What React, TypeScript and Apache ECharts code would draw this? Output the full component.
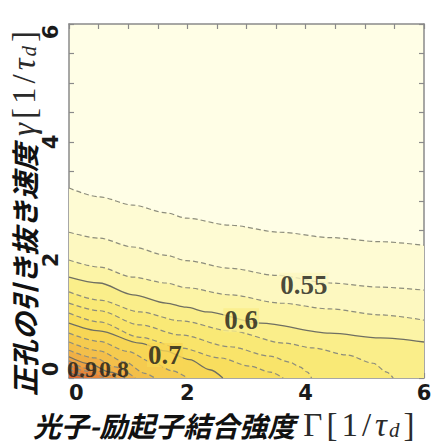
import React, { useEffect, useRef } from "react";
import * as echarts from "echarts";

// Axis ticks
const axisMin = 0;
const axisMax = 6;
const tickStep = 0.5;
const labelStep = 2;

// Contour levels (step 0.025; solid lines at 0.6, 0.7, 0.8, 0.9)
const levels = [0.525, 0.55, 0.575, 0.6, 0.625, 0.65, 0.675, 0.7, 0.725, 0.75, 0.775, 0.8, 0.825, 0.85, 0.875, 0.9];
const solidLevels = [0.6, 0.7, 0.8, 0.9];

// Contour lines: [Γ, γ]
const c0525 = [[0, 3.22], [0.51, 3.07], [1.08, 2.93], [1.64, 2.8], [1.98, 2.71], [2.72, 2.59], [3.57, 2.47], [4.41, 2.38], [5.26, 2.31], [6, 2.25]];
const c0550 = [[0, 2.47], [0.51, 2.37], [1.08, 2.22], [1.64, 2.08], [1.98, 1.99], [2.72, 1.86], [3.5, 1.74], [4.41, 1.61], [5.26, 1.54], [6, 1.49]];
const c0575 = [[0, 2.0], [0.51, 1.88], [1.08, 1.71], [1.64, 1.61], [1.98, 1.53], [2.72, 1.41], [3.57, 1.27], [4.41, 1.17], [5.26, 1.07], [6, 0.98]];
const c0600 = [[0, 1.71], [0.51, 1.61], [1.08, 1.41], [1.64, 1.27], [1.98, 1.2], [2.33, 1.12], [3.24, 0.93], [4.41, 0.76], [5.26, 0.68], [6, 0.61]];
const c0625 = [[0, 1.46], [0.51, 1.32], [1.2, 1.12], [1.88, 0.97], [2.72, 0.8], [3.65, 0.59], [4.12, 0.51], [4.7, 0.39], [5.14, 0.25], [5.37, 0.1], [5.48, 0]];
const c0650 = [[0, 1.27], [0.51, 1.14], [1.2, 0.9], [1.88, 0.73], [2.72, 0.53], [3.4, 0.37], [3.73, 0.27], [3.9, 0.19], [4.03, 0.1], [4.1, 0]];
const c0675 = [[0, 1.1], [0.51, 0.95], [1.2, 0.69], [1.88, 0.51], [2.55, 0.34], [3.06, 0.2], [3.4, 0.1], [3.62, 0]];
const c0700 = [[0, 0.93], [0.51, 0.8], [1.2, 0.59], [1.62, 0.46], [2.04, 0.31], [2.38, 0.14], [2.6, 0]];
const c0725 = [[0, 0.76], [0.51, 0.62], [1.0, 0.45], [1.4, 0.27], [1.75, 0.12], [2.0, 0]];
const c0750 = [[0, 0.61], [0.51, 0.46], [0.95, 0.27], [1.28, 0.08], [1.45, 0]];
const c0775 = [[0, 0.47], [0.44, 0.34], [0.78, 0.19], [1.12, 0]];
const c0800 = [[0, 0.36], [0.35, 0.24], [0.69, 0.1], [0.95, 0]];
const c0825 = [[0, 0.29], [0.35, 0.15], [0.8, 0]];
const c0850 = [[0, 0.22], [0.27, 0.12], [0.6, 0]];
const c0875 = [[0, 0.15], [0.19, 0.08], [0.39, 0]];
const c0900 = [[0, 0.1], [0.13, 0.05], [0.25, 0]];
const contours = [c0525, c0550, c0575, c0600, c0625, c0650, c0675, c0700, c0725, c0750, c0775, c0800, c0825, c0850, c0875, c0900];

// Fill colour of the band above each level
const backgroundFill = "#FFFEE6";
const bandColors = [
  "#FEFBD3", "#FDF8C0", "#FCF4A6", "#FAEE8A", "#F9E976", "#F9E46A", "#F8DE5E", "#F7D655",
  "#F5CB4F", "#F3BF4A", "#F0B046", "#EDA242", "#EA933E", "#E6853A", "#E27837", "#DD6A33",
];

// Inline contour labels [Γ, γ]
const labelTexts = ["0.55", "0.6", "0.7", "0.8", "0.9"];
const labelLevels = [0.55, 0.6, 0.7, 0.8, 0.9];
const labelPoints = [[3.97, 1.58], [2.91, 0.98], [1.62, 0.39], [0.76, 0.16], [0.22, 0.16]];
const labelBoxed = [true, true, true, false, false];
const labelSizes = [27, 27, 27, 24, 24];

const xTitleJp = "光子-励起子結合強度";
const yTitleJp = "正孔の引き抜き速度";

export default function App() {
  const ref = useRef<HTMLDivElement>(null);
  useEffect(() => {
    if (!ref.current) return;
    const chart = echarts.init(ref.current, undefined, { renderer: "svg" });
    const frame = "#8a8a8a";
    const axisCommon = {
      type: "value" as const,
      min: axisMin,
      max: axisMax,
      interval: tickStep,
      splitLine: { show: false },
      axisLine: { show: true, onZero: false, lineStyle: { color: frame, width: 1.5 } },
      axisTick: { show: true, inside: true, length: 5, lineStyle: { color: frame, width: 1.2 } },
    };
    const isLabelled = (v: number) => Math.abs(v % labelStep) < 1e-9;
    const tickLabel = {
      color: "#1a1a1a",
      fontWeight: "bold" as const,
      fontSize: 21,
      lineHeight: 20,
      fontFamily: "DejaVu Sans",
    };
    const yRich = {
      lo: { ...tickLabel, padding: [0, 0, 0, 18] },
      hi: { ...tickLabel, padding: [0, 16, 0, 0] },
    };
    const yFmt = (v: number) => {
      if (!isLabelled(v)) return "";
      if (v === axisMin) return `{lo|${v}}`;
      if (v === axisMax) return `{hi|${v}}`;
      return String(v);
    };

    const areaSeries = contours.map((c, i) => ({
      type: "line",
      data: c,
      smooth: 0.3,
      smoothMonotone: "x",
      showSymbol: false,
      symbol: "none",
      lineStyle: { width: 0, opacity: 0 },
      areaStyle: { color: bandColors[i], opacity: 1, origin: "start" },
      z: 1,
      silent: true,
    }));
    const lineSeries = contours.map((c, i) => {
      const solid = solidLevels.includes(levels[i]);
      return {
        type: "line",
        data: c,
        smooth: 0.3,
        smoothMonotone: "x",
        showSymbol: false,
        symbol: "none",
        lineStyle: {
          color: solid ? "#6f6f62" : "#8d8d7c",
          width: solid ? 1.3 : 1.2,
          type: solid ? "solid" : [5, 3],
        },
        z: 3,
        silent: true,
      };
    });
    const labelSeries = {
      type: "scatter",
      symbolSize: 0,
      itemStyle: { color: "rgba(0,0,0,0)" },
      z: 5,
      silent: true,
      label: {
        show: true,
        position: "inside",
        fontFamily: "Liberation Serif",
        fontWeight: "bold",
        color: "#1a1a16",
      },
      data: labelPoints.map((p, i) => ({
        value: p,
        label: {
          show: true,
          position: "inside",
          formatter: labelTexts[i],
          fontSize: labelSizes[i],
          lineHeight: labelSizes[i] - 3,
          backgroundColor: labelBoxed[i] ? bandColors[levels.indexOf(labelLevels[i])] : "transparent",
          padding: [0, 1, 0, 1],
        },
      })),
    };

    const ink = "#2a2a2a";
    const jp = {
      fontFamily: "Noto Sans CJK JP",
      fontWeight: "bold",
      fontStyle: "italic",
      fontSize: 28,
      lineHeight: 30,
      fill: "#111",
      color: "#111",
      padding: [0, 6, 0, 0],
    };
    const m = { fontFamily: "Liberation Serif", fontSize: 33, lineHeight: 30, fill: ink, color: ink, padding: [0, 2, 0, 2] };
    const mi = { ...m, fontStyle: "italic" };
    const sub = {
      fontFamily: "Liberation Serif",
      fontStyle: "italic",
      fontSize: 21,
      lineHeight: 18,
      fill: ink,
      color: ink,
      verticalAlign: "bottom",
      padding: [0, 2, 0, 0],
    };
    const rich = { jp, m, mi, sub };

    chart.setOption({
      animation: false,
      grid: { left: 69, top: 24, right: 23, bottom: 67, show: true, backgroundColor: backgroundFill, borderWidth: 0 },
      xAxis: [
        {
          ...axisCommon,
          position: "bottom",
          axisLabel: { ...tickLabel, formatter: (v: number) => (isLabelled(v) ? String(v) : ""), margin: 5, alignMinLabel: "left" },
        },
        { ...axisCommon, position: "top", axisLabel: { show: false } },
      ],
      yAxis: [
        { ...axisCommon, position: "left", axisLabel: { ...tickLabel, formatter: yFmt, rich: yRich, rotate: 90, margin: 8 } },
        { ...axisCommon, position: "right", axisLabel: { show: false } },
      ],
      series: [...areaSeries, ...lineSeries, labelSeries],
      graphic: [
        {
          type: "text",
          x: 33,
          y: 425,
          style: {
            text: `{jp|${xTitleJp}}{m|Γ}{m|[}{m|1}{m|/}{mi|τ}{sub|d}{m|]}`,
            rich,
            align: "left",
            verticalAlign: "middle",
            textAlign: "left",
            textVerticalAlign: "middle",
          },
          z: 10,
        },
        {
          type: "text",
          x: 24,
          y: 396,
          rotation: Math.PI / 2,
          style: {
            text: `{jp|${yTitleJp}}{mi|γ}{m|[}{m|1}{m|/}{mi|τ}{sub|d}{m|]}`,
            rich,
            align: "left",
            verticalAlign: "middle",
            textAlign: "left",
            textVerticalAlign: "middle",
          },
          z: 10,
        },
      ],
    });
    return () => chart.dispose();
  }, []);
  return (
    <div
      ref={ref}
      style={{ position: "fixed", left: 0, top: 0, width: 447, height: 445, background: "#ffffff" }}
    />
  );
}
